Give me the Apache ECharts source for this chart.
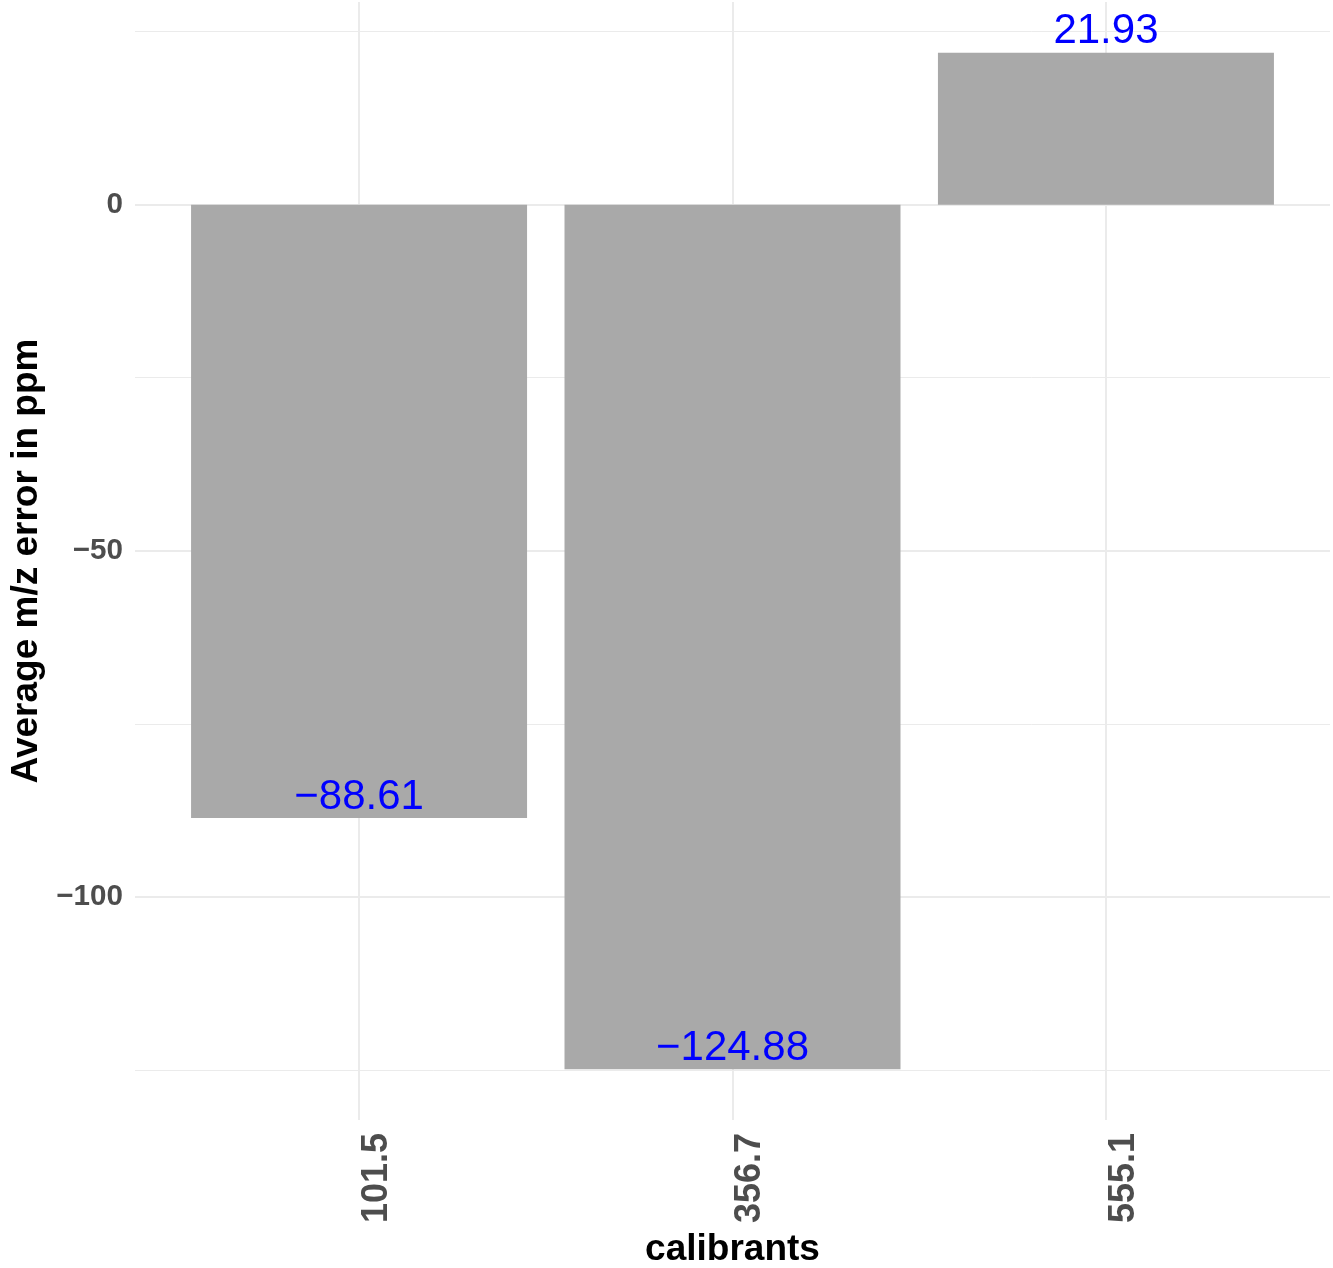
<!DOCTYPE html>
<html>
<head>
<meta charset="utf-8">
<script src="https://cdn.jsdelivr.net/npm/echarts@6/dist/echarts.min.js"></script>
<style>
  html, body { margin: 0; padding: 0; background: #fff; }
  #chart { width: 1333px; height: 1268px; }
</style>
</head>
<body>
<div id="chart"></div>
<script>
const categories = ['101.5', '356.7', '555.1'];
const errors = [-88.61, -124.88, 21.93];
const majorBreaks = [-100, -50, 0];
const minorBreaks = [-125, -75, -25, 25];
const yRange = [-132.22, 29.27];
const xRange = [0.4, 3.6];

const font = 'Liberation Sans, Arial, Helvetica, sans-serif';
const minus = s => String(s).replace('-', '\u2212');

let points = errors.map((v, i) => [i + 1, v]);

let gridLines = [];
majorBreaks.forEach(v => gridLines.push({ yAxis: v, lineStyle: { width: 2 } }));
minorBreaks.forEach(v => gridLines.push({ yAxis: v, lineStyle: { width: 1 } }));
categories.forEach((c, i) => gridLines.push({ xAxis: i + 1, lineStyle: { width: 2 } }));

let mychart = echarts.init(document.getElementById('chart'));
mychart.setOption({
  animation: false,
  backgroundColor: '#fff',
  grid: { left: 135, right: 3, top: 2, bottom: 148, containLabel: false, outerBoundsMode: 'none' },
  xAxis: {
    type: 'value',
    min: xRange[0],
    max: xRange[1],
    splitNumber: 3,
    minInterval: 1,
    maxInterval: 1,
    axisLine: { show: false },
    axisTick: { show: false },
    splitLine: { show: false },
    axisLabel: {
      rotate: 90,
      verticalAlign: 'top',
      margin: 13,
      fontSize: 36,
      fontWeight: 'bold',
      color: '#4D4D4D',
      fontFamily: font,
      formatter: v => (Number.isInteger(v) && categories[v - 1]) ? categories[v - 1] : ''
    },
    name: 'calibrants',
    nameLocation: 'middle',
    nameGap: 110,
    nameTextStyle: { fontSize: 37, fontWeight: 'bold', color: '#000', fontFamily: font }
  },
  yAxis: {
    type: 'value',
    min: yRange[0],
    max: yRange[1],
    splitNumber: 3,
    minInterval: 50,
    maxInterval: 50,
    axisLine: { show: false },
    axisTick: { show: false },
    splitLine: { show: false },
    axisLabel: {
      margin: 12,
      fontSize: 29.6,
      fontWeight: 'bold',
      color: '#4D4D4D',
      fontFamily: font,
      formatter: v => (majorBreaks.indexOf(v) >= 0) ? minus(v) : ''
    },
    name: 'Average m/z error in ppm',
    nameLocation: 'middle',
    nameRotate: 90,
    nameGap: 87,
    nameTextStyle: { fontSize: 37, fontWeight: 'bold', color: '#000', fontFamily: font }
  },
  series: [
    {
      type: 'bar',
      data: points,
      barWidth: 336,
      z: 2,
      itemStyle: { color: '#A9A9A9' },
      markLine: {
        silent: true,
        symbol: ['none', 'none'],
        z: 1,
        label: { show: false },
        lineStyle: { color: '#EBEBEB', type: 'solid' },
        data: gridLines
      }
    },
    {
      type: 'scatter',
      data: points,
      symbolSize: 0,
      z: 3,
      silent: true,
      itemStyle: { opacity: 1 },
      label: {
        show: true,
        position: 'top',
        distance: 0,
        color: '#0000FF',
        fontSize: 42,
        fontFamily: font,
        formatter: p => minus(p.value[1].toFixed(2))
      }
    }
  ]
});
</script>
</body>
</html>
